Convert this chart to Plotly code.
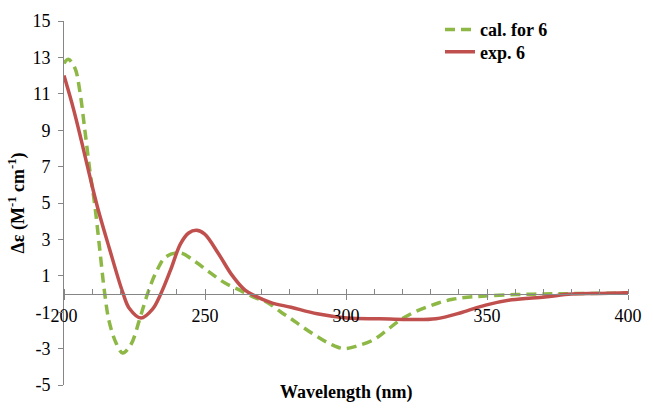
import plotly.graph_objects as go

cal_x = [200, 201.5, 203.9, 205.6, 207.4, 209.1, 210.9, 212.6, 214.4, 216, 218.5, 220.8, 223.7, 226.7, 229.6, 232.5, 236.1, 241.3, 246.6, 251.3, 257.1, 263, 267.7, 271.8, 277, 280.5, 285, 289.8, 294.5, 299.2, 304, 309.7, 314, 319, 323.5, 328.4, 333, 337.8, 343, 349.5, 360, 370, 380, 390, 400]
cal_y = [12.67, 12.9, 12.4, 11.15, 9.0, 6.86, 4.9, 2.57, 0.07, -1.5, -2.7, -3.24, -2.79, -1.45, 0, 1.14, 2.04, 2.25, 1.77, 1.23, 0.6, 0.16, -0.2, -0.43, -1.0, -1.36, -1.85, -2.34, -2.75, -3.0, -2.85, -2.52, -2.05, -1.45, -1.05, -0.73, -0.48, -0.29, -0.18, -0.11, -0.03, 0, 0.02, 0.04, 0.05]

exp_x = [200, 203.3, 206.2, 209.1, 212, 216.1, 220.8, 223.2, 227.3, 231.4, 234.3, 237.8, 241.3, 244.2, 247, 249.8, 254.8, 259.5, 264.2, 267.7, 273.4, 280.5, 289.8, 300.4, 312, 321.4, 331.9, 341.3, 349.5, 358.8, 370.5, 380, 390, 400]
exp_y = [12.0, 10.2, 8.4, 6.5, 4.7, 2.5, 0.1, -0.8, -1.32, -0.83, 0, 1.32, 2.75, 3.35, 3.5, 3.3, 2.21, 1.05, 0.21, -0.1, -0.47, -0.73, -1.09, -1.32, -1.36, -1.4, -1.36, -1.0, -0.61, -0.32, -0.16, 0.0, 0.03, 0.07]

x_ticks = [200, 250, 300, 350, 400]
y_ticks = [-5, -3, -1, 1, 3, 5, 7, 9, 11, 13, 15]
y_tick_text = ["-5", "-3", "-1", "1", "3", "5", "7", "9", "11", "13", "15"]

FONT = "Liberation Serif, Times New Roman, serif"
GRAY = "#868686"

fig = go.Figure()
fig.add_trace(go.Scatter(x=cal_x, y=cal_y, mode="lines", name="<b>cal. for 6</b>", legend="legend",
                         line=dict(color="#8DB846", width=3.5, dash="10px,6px", shape="spline", smoothing=1)))
fig.add_trace(go.Scatter(x=exp_x, y=exp_y, mode="lines", name="<b>exp. 6</b>", legend="legend2",
                         line=dict(color="#C0504D", width=3.5, shape="spline", smoothing=1)))

L, R, T, B = 64, 19, 11, 23
W, H = 653, 408
pw, ph = W - L - R, H - T - B

legend_common = dict(xanchor="left", yanchor="middle", bgcolor="rgba(0,0,0,0)",
                     font=dict(family=FONT, size=18, color="black"))

fig.update_layout(
    width=W, height=H, autosize=False,
    margin=dict(l=L, r=R, t=T, b=B),
    paper_bgcolor="white", plot_bgcolor="white",
    font=dict(family=FONT, size=18, color="black"),
    showlegend=True,
    legend=dict(x=(444 - L) / pw, y=1 - (20 - T) / ph, **legend_common),
    legend2=dict(x=(444 - L) / pw, y=1 - (43 - T) / ph, **legend_common),
    xaxis=dict(range=[200, 400], tickvals=x_ticks, showgrid=False, zeroline=False,
               showline=True, linecolor=GRAY, linewidth=1, anchor="free", position=0.25,
               ticks="outside", ticklen=5, tickcolor=GRAY,
               minor=dict(dtick=10, ticks="inside", ticklen=5, tickcolor=GRAY, showgrid=False),
               tickfont=dict(family=FONT, size=18, color="black")),
    yaxis=dict(range=[-5, 15], tickvals=y_ticks, ticktext=y_tick_text, showgrid=False, zeroline=False,
               showline=True, linecolor=GRAY, linewidth=1,
               ticks="outside", ticklen=5, tickcolor=GRAY, ticklabelstandoff=4,
               tickfont=dict(family=FONT, size=18, color="black")),
)

fig.add_annotation(text="<b>Δε (M<sup>-1</sup> cm<sup>-1</sup>)</b>", xref="paper", yref="paper",
                   x=(17 - L) / pw, y=0.5, textangle=-90, showarrow=False,
                   xanchor="center", yanchor="middle", font=dict(family=FONT, size=18, color="black"))
fig.add_annotation(text="<b>Wavelength (nm)</b>", xref="paper", yref="paper",
                   x=0.5, y=(H - B - 393) / ph, showarrow=False,
                   xanchor="center", yanchor="middle", font=dict(family=FONT, size=18, color="black"))

fig.write_html("out.html", config={"displayModeBar": False},
               post_script="document.body.style.margin='0px';document.body.style.overflow='hidden';")
